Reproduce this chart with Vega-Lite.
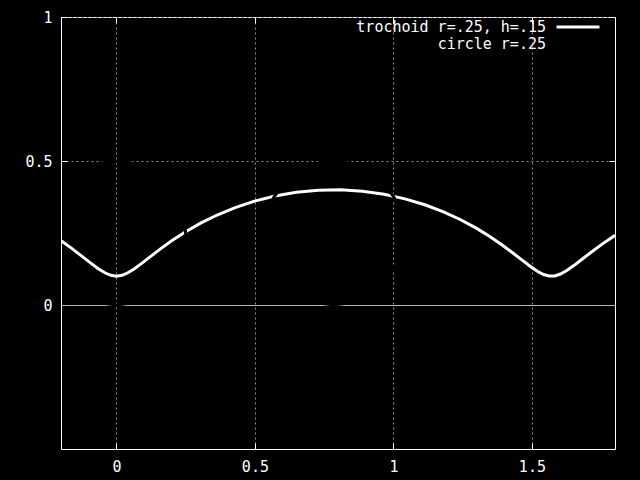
{
  "$schema": "https://vega.github.io/schema/vega-lite/v6.json",
  "width": 554,
  "height": 432,
  "autosize": {"type": "none"},
  "padding": {"left": 61, "top": 17, "right": 25, "bottom": 31},
  "background": "black",
  "datasets": {
    "trochoid": [
      {"series": "trochoid r=.25, h=.15", "t": -1.4, "x": -0.20218, "y": 0.22450},
      {"series": "trochoid r=.25, h=.15", "t": -1.2, "x": -0.16019, "y": 0.19565},
      {"series": "trochoid r=.25, h=.15", "t": -1.0, "x": -0.12378, "y": 0.16896},
      {"series": "trochoid r=.25, h=.15", "t": -0.8, "x": -0.09240, "y": 0.14549},
      {"series": "trochoid r=.25, h=.15", "t": -0.6, "x": -0.06530, "y": 0.12620},
      {"series": "trochoid r=.25, h=.15", "t": -0.4, "x": -0.04159, "y": 0.11184},
      {"series": "trochoid r=.25, h=.15", "t": -0.2, "x": -0.02020, "y": 0.10299},
      {"series": "trochoid r=.25, h=.15", "t": 0.0, "x": 0.0, "y": 0.1},
      {"series": "trochoid r=.25, h=.15", "t": 0.2, "x": 0.02020, "y": 0.10299},
      {"series": "trochoid r=.25, h=.15", "t": 0.4, "x": 0.04159, "y": 0.11184},
      {"series": "trochoid r=.25, h=.15", "t": 0.6, "x": 0.06530, "y": 0.12620},
      {"series": "trochoid r=.25, h=.15", "t": 0.8, "x": 0.09240, "y": 0.14549},
      {"series": "trochoid r=.25, h=.15", "t": 1.0, "x": 0.12378, "y": 0.16896},
      {"series": "trochoid r=.25, h=.15", "t": 1.2, "x": 0.16019, "y": 0.19565},
      {"series": "trochoid r=.25, h=.15", "t": 1.4, "x": 0.20218, "y": 0.22450},
      {"series": "trochoid r=.25, h=.15", "t": 1.6, "x": 0.25006, "y": 0.25438},
      {"series": "trochoid r=.25, h=.15", "t": 1.8, "x": 0.30392, "y": 0.28408},
      {"series": "trochoid r=.25, h=.15", "t": 2.0, "x": 0.36360, "y": 0.31242},
      {"series": "trochoid r=.25, h=.15", "t": 2.2, "x": 0.42872, "y": 0.33828},
      {"series": "trochoid r=.25, h=.15", "t": 2.4, "x": 0.49868, "y": 0.36061},
      {"series": "trochoid r=.25, h=.15", "t": 2.6, "x": 0.57267, "y": 0.37853},
      {"series": "trochoid r=.25, h=.15", "t": 2.8, "x": 0.64975, "y": 0.39133},
      {"series": "trochoid r=.25, h=.15", "t": 3.0, "x": 0.72883, "y": 0.39850},
      {"series": "trochoid r=.25, h=.15", "t": 3.2, "x": 0.80876, "y": 0.39974},
      {"series": "trochoid r=.25, h=.15", "t": 3.4, "x": 0.88833, "y": 0.39502},
      {"series": "trochoid r=.25, h=.15", "t": 3.6, "x": 0.96638, "y": 0.38451},
      {"series": "trochoid r=.25, h=.15", "t": 3.8, "x": 1.04178, "y": 0.36865},
      {"series": "trochoid r=.25, h=.15", "t": 4.0, "x": 1.11352, "y": 0.34805},
      {"series": "trochoid r=.25, h=.15", "t": 4.2, "x": 1.18074, "y": 0.32354},
      {"series": "trochoid r=.25, h=.15", "t": 4.4, "x": 1.24274, "y": 0.29610},
      {"series": "trochoid r=.25, h=.15", "t": 4.6, "x": 1.29905, "y": 0.26682},
      {"series": "trochoid r=.25, h=.15", "t": 4.8, "x": 1.34942, "y": 0.23687},
      {"series": "trochoid r=.25, h=.15", "t": 5.0, "x": 1.39384, "y": 0.20745},
      {"series": "trochoid r=.25, h=.15", "t": 5.2, "x": 1.43252, "y": 0.17972},
      {"series": "trochoid r=.25, h=.15", "t": 5.4, "x": 1.46591, "y": 0.15480},
      {"series": "trochoid r=.25, h=.15", "t": 5.6, "x": 1.49469, "y": 0.13366},
      {"series": "trochoid r=.25, h=.15", "t": 5.8, "x": 1.51969, "y": 0.11717},
      {"series": "trochoid r=.25, h=.15", "t": 6.0, "x": 1.54191, "y": 0.10597},
      {"series": "trochoid r=.25, h=.15", "t": 6.2, "x": 1.56246, "y": 0.10052},
      {"series": "trochoid r=.25, h=.15", "t": 6.4, "x": 1.58252, "y": 0.10102},
      {"series": "trochoid r=.25, h=.15", "t": 6.6, "x": 1.60327, "y": 0.10747},
      {"series": "trochoid r=.25, h=.15", "t": 6.8, "x": 1.62588, "y": 0.11959},
      {"series": "trochoid r=.25, h=.15", "t": 7.0, "x": 1.65145, "y": 0.13691},
      {"series": "trochoid r=.25, h=.15", "t": 7.2, "x": 1.68095, "y": 0.15875},
      {"series": "trochoid r=.25, h=.15", "t": 7.4, "x": 1.71519, "y": 0.18422},
      {"series": "trochoid r=.25, h=.15", "t": 7.6, "x": 1.75481, "y": 0.21231},
      {"series": "trochoid r=.25, h=.15", "t": 7.8, "x": 1.80022, "y": 0.24191}
    ],
    "circle": [
      {"series": "circle r=.25", "c": 1, "a": 0, "x": 0.25, "y": 0.25},
      {"series": "circle r=.25", "c": 1, "a": 15, "x": 0.24148, "y": 0.31470},
      {"series": "circle r=.25", "c": 1, "a": 30, "x": 0.21651, "y": 0.375},
      {"series": "circle r=.25", "c": 1, "a": 45, "x": 0.17678, "y": 0.42678},
      {"series": "circle r=.25", "c": 1, "a": 60, "x": 0.125, "y": 0.46651},
      {"series": "circle r=.25", "c": 1, "a": 75, "x": 0.06470, "y": 0.49148},
      {"series": "circle r=.25", "c": 1, "a": 90, "x": 0.0, "y": 0.5},
      {"series": "circle r=.25", "c": 1, "a": 105, "x": -0.06470, "y": 0.49148},
      {"series": "circle r=.25", "c": 1, "a": 120, "x": -0.125, "y": 0.46651},
      {"series": "circle r=.25", "c": 1, "a": 135, "x": -0.17678, "y": 0.42678},
      {"series": "circle r=.25", "c": 1, "a": 150, "x": -0.21651, "y": 0.375},
      {"series": "circle r=.25", "c": 1, "a": 165, "x": -0.24148, "y": 0.31470},
      {"series": "circle r=.25", "c": 1, "a": 180, "x": -0.25, "y": 0.25},
      {"series": "circle r=.25", "c": 1, "a": 195, "x": -0.24148, "y": 0.18530},
      {"series": "circle r=.25", "c": 1, "a": 210, "x": -0.21651, "y": 0.125},
      {"series": "circle r=.25", "c": 1, "a": 225, "x": -0.17678, "y": 0.07322},
      {"series": "circle r=.25", "c": 1, "a": 240, "x": -0.125, "y": 0.03349},
      {"series": "circle r=.25", "c": 1, "a": 255, "x": -0.06470, "y": 0.00852},
      {"series": "circle r=.25", "c": 1, "a": 270, "x": 0.0, "y": 0.0},
      {"series": "circle r=.25", "c": 1, "a": 285, "x": 0.06470, "y": 0.00852},
      {"series": "circle r=.25", "c": 1, "a": 300, "x": 0.125, "y": 0.03349},
      {"series": "circle r=.25", "c": 1, "a": 315, "x": 0.17678, "y": 0.07322},
      {"series": "circle r=.25", "c": 1, "a": 330, "x": 0.21651, "y": 0.125},
      {"series": "circle r=.25", "c": 1, "a": 345, "x": 0.24148, "y": 0.18530},
      {"series": "circle r=.25", "c": 1, "a": 360, "x": 0.25, "y": 0.25},
      {"series": "circle r=.25", "c": 2, "a": 0, "x": 1.0354, "y": 0.25},
      {"series": "circle r=.25", "c": 2, "a": 15, "x": 1.02688, "y": 0.31470},
      {"series": "circle r=.25", "c": 2, "a": 30, "x": 1.00191, "y": 0.375},
      {"series": "circle r=.25", "c": 2, "a": 45, "x": 0.96218, "y": 0.42678},
      {"series": "circle r=.25", "c": 2, "a": 60, "x": 0.9104, "y": 0.46651},
      {"series": "circle r=.25", "c": 2, "a": 75, "x": 0.8501, "y": 0.49148},
      {"series": "circle r=.25", "c": 2, "a": 90, "x": 0.7854, "y": 0.5},
      {"series": "circle r=.25", "c": 2, "a": 105, "x": 0.7207, "y": 0.49148},
      {"series": "circle r=.25", "c": 2, "a": 120, "x": 0.6604, "y": 0.46651},
      {"series": "circle r=.25", "c": 2, "a": 135, "x": 0.60862, "y": 0.42678},
      {"series": "circle r=.25", "c": 2, "a": 150, "x": 0.56889, "y": 0.375},
      {"series": "circle r=.25", "c": 2, "a": 165, "x": 0.54392, "y": 0.31470},
      {"series": "circle r=.25", "c": 2, "a": 180, "x": 0.5354, "y": 0.25},
      {"series": "circle r=.25", "c": 2, "a": 195, "x": 0.54392, "y": 0.18530},
      {"series": "circle r=.25", "c": 2, "a": 210, "x": 0.56889, "y": 0.125},
      {"series": "circle r=.25", "c": 2, "a": 225, "x": 0.60862, "y": 0.07322},
      {"series": "circle r=.25", "c": 2, "a": 240, "x": 0.6604, "y": 0.03349},
      {"series": "circle r=.25", "c": 2, "a": 255, "x": 0.7207, "y": 0.00852},
      {"series": "circle r=.25", "c": 2, "a": 270, "x": 0.7854, "y": 0.0},
      {"series": "circle r=.25", "c": 2, "a": 285, "x": 0.8501, "y": 0.00852},
      {"series": "circle r=.25", "c": 2, "a": 300, "x": 0.9104, "y": 0.03349},
      {"series": "circle r=.25", "c": 2, "a": 315, "x": 0.96218, "y": 0.07322},
      {"series": "circle r=.25", "c": 2, "a": 330, "x": 1.00191, "y": 0.125},
      {"series": "circle r=.25", "c": 2, "a": 345, "x": 1.02688, "y": 0.18530},
      {"series": "circle r=.25", "c": 2, "a": 360, "x": 1.0354, "y": 0.25}
    ]
  },
  "layer": [
    {
      "data": {"values": [{}]},
      "mark": {"type": "rule", "color": "#b4b4b4", "strokeWidth": 1, "yOffset": 0.5},
      "encoding": {"y": {"datum": 0, "type": "quantitative", "scale": {"domain": [-0.5, 1], "nice": false},
                         "axis": {"orient": "left", "domain": true, "domainColor": "white", "domainWidth": 1, "ticks": false, "labels": false, "grid": false, "zindex": 1}}}
    },
    {
      "data": {"name": "trochoid"},
      "mark": {"type": "line", "strokeWidth": 3, "clip": true},
      "encoding": {
        "x": {"field": "x", "type": "quantitative", "scale": {"domain": [-0.2, 1.8], "nice": false, "zero": false},
              "axis": {"orient": "bottom", "values": [0, 0.5, 1, 1.5], "grid": true, "labelPadding": 16, "format": "~g"}},
        "y": {"field": "y", "type": "quantitative", "scale": {"domain": [-0.5, 1], "nice": false, "zero": false},
              "axis": {"orient": "left", "values": [0, 0.5, 1], "grid": true, "labelPadding": 15, "format": "~g"}},
        "order": {"field": "t", "type": "quantitative"},
        "color": {"field": "series", "type": "nominal",
                  "scale": {"domain": ["trochoid r=.25, h=.15"], "range": ["white"]},
                  "legend": {"orient": "none", "legendX": 494, "legendY": -13}}
      }
    },
    {
      "data": {"name": "circle"},
      "mark": {"type": "line", "strokeWidth": 3, "clip": true},
      "encoding": {
        "x": {"field": "x", "type": "quantitative",
              "axis": {"orient": "top", "values": [0, 0.5, 1, 1.5], "labels": false, "grid": false}},
        "y": {"field": "y", "type": "quantitative",
              "axis": {"orient": "right", "values": [0, 0.5, 1], "labels": false, "grid": false}},
        "detail": {"field": "c", "type": "nominal"},
        "order": {"field": "a", "type": "quantitative"},
        "stroke": {"field": "series", "type": "nominal",
                   "scale": {"domain": ["circle r=.25"], "range": ["black"]},
                   "legend": {"orient": "none", "legendX": 494, "legendY": 4}}
      }
    }
  ],
  "resolve": {"axis": {"x": "independent", "y": "independent"}},
  "config": {
    "view": {"stroke": "white", "strokeWidth": 1},
    "axis": {
      "domain": false,
      "title": null,
      "labelColor": "white",
      "labelFont": "DejaVu Sans Mono",
      "labelFontSize": 15,
      "tickColor": "white",
      "tickSize": -6,
      "tickWidth": 1,
      "gridColor": "#909090",
      "gridDash": [2, 3],
      "gridWidth": 1
    },
    "legend": {
      "title": null,
      "labelColor": "white",
      "labelFont": "DejaVu Sans Mono",
      "labelFontSize": 15,
      "labelAlign": "right",
      "labelOffset": -55,
      "labelLimit": 0,
      "symbolType": "stroke",
      "symbolSize": 1849,
      "symbolStrokeWidth": 3
    }
  }
}
